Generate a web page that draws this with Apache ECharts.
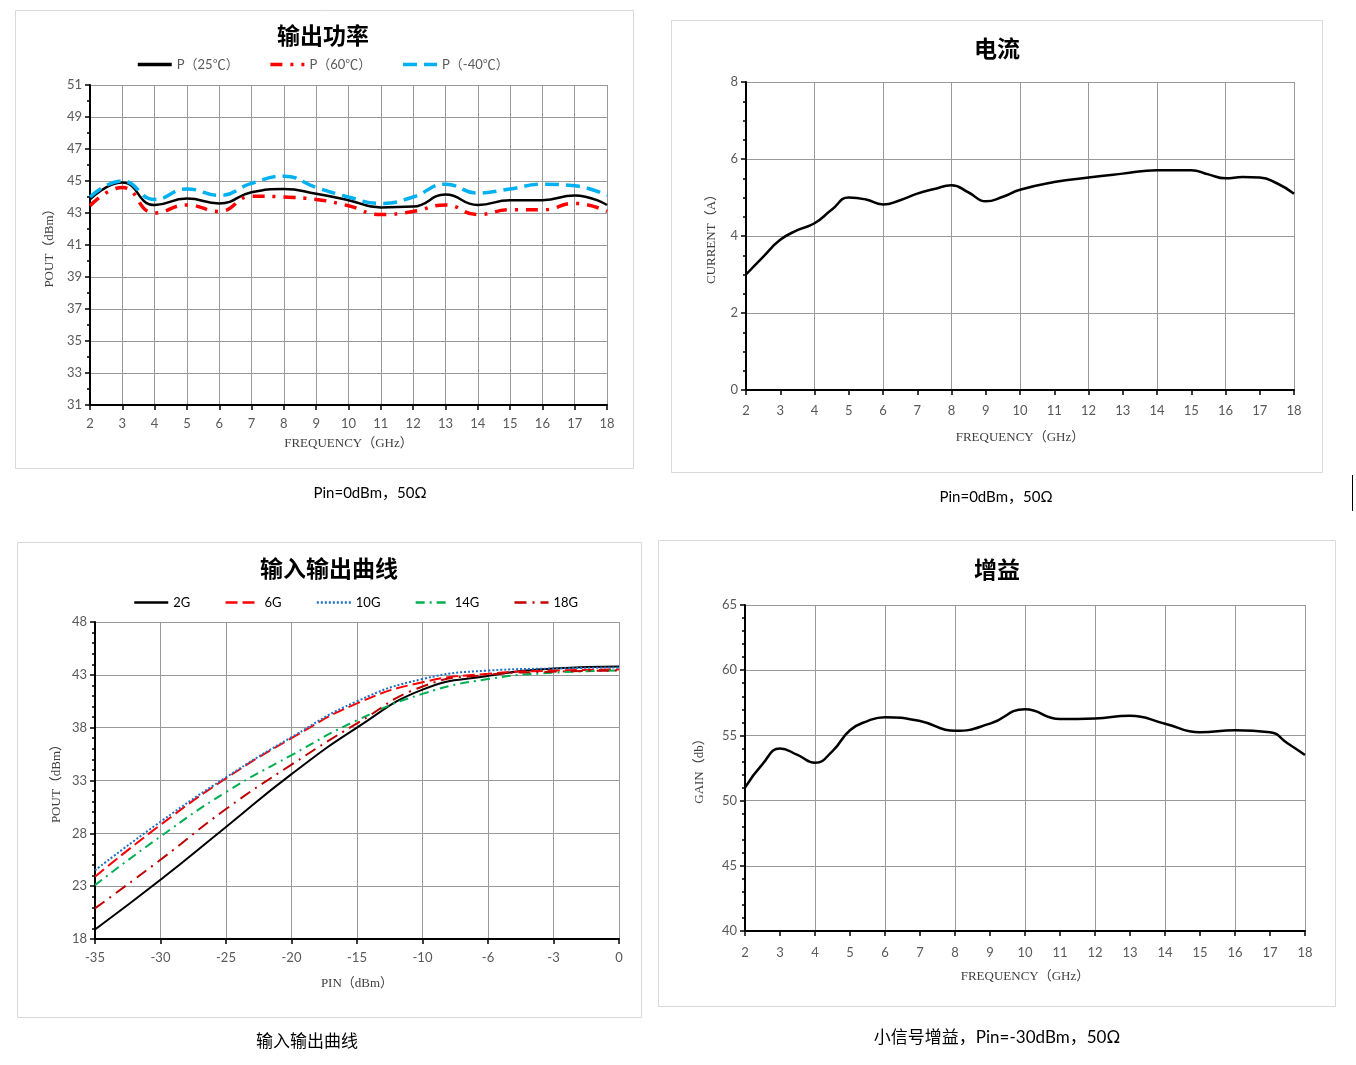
<!DOCTYPE html>
<html lang="zh">
<head>
<meta charset="UTF-8">
<title>功率放大器曲线</title>
<script src="https://cdn.jsdelivr.net/npm/echarts@6/dist/echarts.min.js"></script>
<style>
  html, body { margin: 0; padding: 0; background: #fff; }
  #chart { width: 1356px; height: 1065px; }
</style>
</head>
<body>
<div id="chart"></div>
<script type="text/javascript">
// 输出功率 (Pin=0dBm)
var freq = [2, 3, 4, 5, 6, 7, 8, 9, 10, 11, 12, 13, 14, 15, 16, 17, 18];
var p25  = [43.85, 44.9, 43.5, 43.9, 43.6, 44.3, 44.5, 44.2, 43.8, 43.35, 43.4, 44.15, 43.5, 43.8, 43.8, 44.1, 43.5];
var p60  = [43.45, 44.6, 43.0, 43.5, 43.1, 44.05, 44.0, 43.85, 43.45, 42.9, 43.1, 43.5, 42.9, 43.2, 43.2, 43.6, 43.1];
var pm40 = [44.0, 45.0, 43.85, 44.5, 44.1, 44.85, 45.3, 44.6, 44.0, 43.6, 44.0, 44.8, 44.25, 44.5, 44.8, 44.7, 44.1];

// 电流
var curFreq = [2, 2.5, 3, 3.5, 4, 4.5, 5, 5.5, 6, 6.5, 7, 7.5, 8, 8.5, 9, 9.5, 10, 11, 12, 13, 14, 15, 15.5, 16, 16.5, 17, 17.5, 18];
var current = [3.0, 3.46, 3.9, 4.15, 4.33, 4.68, 5.0, 4.95, 4.82, 4.93, 5.1, 5.22, 5.32, 5.13, 4.9, 5.02, 5.2, 5.4, 5.52, 5.62, 5.71, 5.71, 5.6, 5.5, 5.53, 5.52, 5.37, 5.1];

// 输入输出曲线
var pinLabels = ['-35', '-30', '-25', '-20', '-15', '-10', '-6', '-3', '0'];
var io2G  = [18.9, 23.6, 28.6, 33.6, 38.0, 41.6, 42.9, 43.6, 43.8];
var io6G  = [23.9, 28.8, 33.2, 37.0, 40.3, 42.3, 43.1, 43.4, 43.5];
var io10G = [24.5, 29.1, 33.3, 37.1, 40.5, 42.6, 43.4, 43.6, 43.7];
var io14G = [23.1, 27.7, 31.9, 35.4, 38.7, 41.2, 42.6, 43.2, 43.4];
var io18G = [20.9, 25.5, 30.3, 34.5, 38.4, 41.9, 43.0, 43.3, 43.4];

// 小信号增益
var gainFreq = [2, 2.5, 3, 3.5, 4, 4.5, 5, 5.5, 6, 7, 8, 9, 10, 11, 12, 13, 14, 15, 16, 17, 17.5, 18];
var gain = [51.0, 52.8, 54.0, 53.5, 52.9, 53.8, 55.4, 56.1, 56.4, 56.1, 55.35, 55.9, 57.0, 56.25, 56.3, 56.5, 55.9, 55.25, 55.4, 55.25, 54.4, 53.5];

function zip(xs, ys) {
  return xs.map(function (x, i) { return [x, ys[i]]; });
}

var nameStyle = { color: '#404040', fontFamily: 'Liberation Serif, Noto Sans CJK SC', fontSize: 13 };
var gridLine = { show: true, lineStyle: { color: '#999999', width: 1 } };
var blackLine = { show: true, onZero: false, lineStyle: { color: '#000', width: 2 } };
var tick = { show: true, length: 5, lineStyle: { color: '#000', width: 1.5 } };

function labels(margin) {
  return { color: '#595959', fontFamily: 'Lato', fontSize: 13, margin: margin };
}
function freqAxis(grid, showGrid, nameGap, margin) {
  return {
    gridIndex: grid, type: 'value', min: 2, max: 18, interval: 1, position: 'bottom',
    name: 'FREQUENCY（GHz）', nameLocation: 'middle', nameGap: nameGap, nameTextStyle: nameStyle,
    axisLine: blackLine, axisTick: tick, axisLabel: labels(margin),
    splitLine: showGrid ? gridLine : { show: false }
  };
}
function gridOnlyAxis(grid) {
  return {
    gridIndex: grid, type: 'value', min: 2, max: 18, interval: 2, position: 'bottom',
    axisLine: { show: false }, axisTick: { show: false }, axisLabel: { show: false },
    splitLine: gridLine
  };
}
function valAxis(grid, min, max, interval, minor, name, nameGap) {
  return {
    gridIndex: grid, type: 'value', min: min, max: max, interval: interval,
    name: name, nameLocation: 'middle', nameGap: nameGap, nameRotate: 90, nameTextStyle: nameStyle,
    axisLine: blackLine, axisTick: tick, axisLabel: labels(8),
    minorTick: { show: true, splitNumber: minor, length: 3, lineStyle: { color: '#000', width: 1.5 } },
    splitLine: gridLine
  };
}
function curve(name, xi, yi, data, color, width, dash) {
  return {
    name: name, type: 'line', xAxisIndex: xi, yAxisIndex: yi, data: data,
    smooth: true, symbol: 'none', color: color,
    lineStyle: { color: color, width: width, type: dash || 'solid' }
  };
}
function panelText(text, x, y, font) {
  return { type: 'text', x: x, y: y, style: { text: text, font: font, fill: '#000', align: 'center', verticalAlign: 'middle' } };
}
function border(x1, y1, x2, y2) {
  return { type: 'rect', shape: { x: x1 + 0.5, y: y1 + 0.5, width: x2 - x1, height: y2 - y1 },
           style: { fill: null, stroke: '#d9d9d9', lineWidth: 1 }, z: -1 };
}

var titleFont = 'bold 23px "Noto Sans CJK SC"';
var capFont = '15px Lato, "Noto Sans CJK SC"';

var chart = echarts.init(document.getElementById('chart'));
chart.setOption({
  animation: false,
  backgroundColor: '#fff',
  grid: [
    { left: 90, top: 85, width: 517, height: 320 },
    { left: 746, top: 82, width: 548, height: 308 },
    { left: 95, top: 622, width: 524, height: 317 },
    { left: 745, top: 605, width: 560, height: 326 }
  ],
  legend: [
    {
      data: ['P（25℃）', 'P（60℃）', 'P（-40℃）'], left: 136, top: 58, padding: 0,
      itemWidth: 34, itemHeight: 12, itemGap: 30, itemStyle: { opacity: 0 },
      lineStyle: { width: 3.5 },
      textStyle: { color: '#595959', fontFamily: 'Lato, "Noto Sans CJK SC"', fontSize: 13 }
    },
    {
      data: ['2G', '6G', '10G', '14G', '18G'], left: 133, top: 596, padding: 0,
      itemWidth: 34, itemHeight: 12, itemGap: 34, itemStyle: { opacity: 0 },
      lineStyle: { width: 2.5 },
      textStyle: { color: '#000', fontFamily: 'Lato', fontSize: 13 }
    }
  ],
  xAxis: [
    freqAxis(0, true, 32, 12),
    freqAxis(1, false, 41, 14),
    gridOnlyAxis(1),
    {
      gridIndex: 2, type: 'category', data: pinLabels, boundaryGap: false,
      name: 'PIN（dBm）', nameLocation: 'middle', nameGap: 38, nameTextStyle: nameStyle,
      axisLine: blackLine, axisTick: tick, axisLabel: labels(12), splitLine: gridLine
    },
    freqAxis(3, false, 39, 15),
    gridOnlyAxis(3)
  ],
  yAxis: [
    valAxis(0, 31, 51, 2, 2, 'POUT（dBm）', 34),
    valAxis(1, 0, 8, 2, 4, 'CURRENT（A）', 28),
    valAxis(2, 18, 48, 5, 5, 'POUT（dBm）', 32),
    valAxis(3, 40, 65, 5, 5, 'GAIN（db）', 39)
  ],
  series: [
    curve('P（25℃）', 0, 0, zip(freq, p25), '#000000', 2.5),
    curve('P（60℃）', 0, 0, zip(freq, p60), '#ff0000', 3.5, [12, 8, 3, 8]),
    curve('P（-40℃）', 0, 0, zip(freq, pm40), '#00b0f0', 3.5, [14, 7]),
    curve('电流', 1, 1, zip(curFreq, current), '#000000', 2.5),
    curve('2G', 3, 2, io2G, '#000000', 2),
    curve('6G', 3, 2, io6G, '#ff0000', 2, [12, 5]),
    curve('10G', 3, 2, io10G, '#1f6fc5', 2, [2, 2]),
    curve('14G', 3, 2, io14G, '#00b050', 2, [9, 5, 2, 5]),
    curve('18G', 3, 2, io18G, '#c00000', 2, [12, 6, 2, 6]),
    curve('增益', 4, 3, zip(gainFreq, gain), '#000000', 2.5)
  ],
  graphic: [
    border(15, 10, 633, 468),
    border(671, 20, 1322, 472),
    border(17, 542, 641, 1017),
    border(658, 540, 1335, 1006),
    panelText('输出功率', 323, 35, titleFont),
    panelText('电流', 997, 48, titleFont),
    panelText('输入输出曲线', 329, 568, titleFont),
    panelText('增益', 997, 569, titleFont),
    panelText('Pin=0dBm，50Ω', 370, 493, capFont),
    panelText('Pin=0dBm，50Ω', 996, 497, capFont),
    panelText('输入输出曲线', 307, 1041, '17px "Noto Sans CJK SC"'),
    panelText('小信号增益，Pin=-30dBm，50Ω', 997, 1038, '17px Lato, "Noto Sans CJK SC"'),
    { type: 'line', shape: { x1: 1352.5, y1: 475, x2: 1352.5, y2: 511 }, style: { stroke: '#000', lineWidth: 1 } }
  ]
});
</script>
</body>
</html>
